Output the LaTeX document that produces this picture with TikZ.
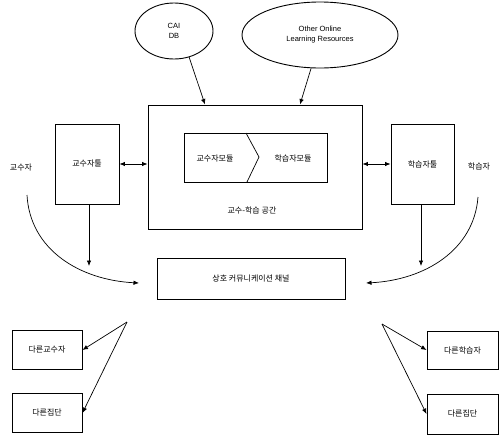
\documentclass[tikz,border=0pt]{standalone}
\usepackage{fontspec}
\setmainfont{Liberation Sans}
\newfontfamily\kr{Noto Sans CJK KR}
\usetikzlibrary{arrows.meta,shapes.geometric,calc}
\begin{document}
\begin{tikzpicture}[x=1pt,y=-1pt,
  box/.style={draw,line width=0.9pt,inner sep=0pt},
  lbl/.style={font=\kr\fontsize{8}{9}\selectfont,inner sep=1pt},
  ell/.style={draw,ellipse,line width=0.9pt,inner sep=0pt,align=center,font=\fontsize{7.5}{10}\selectfont},
  arr/.style={-{Latex[length=5.5pt,width=4.5pt]},line width=0.7pt},
  darr/.style={{Latex[length=5.5pt,width=4.5pt]}-{Latex[length=5.5pt,width=4.5pt]},line width=0.8pt}]
\useasboundingbox (0,0) rectangle (504,445);
% ellipses
\node[ell,minimum width=78pt,minimum height=56pt] (cai) at (174,31) {CAI\\DB};
\node[ell,minimum width=156pt,minimum height=66pt] (other) at (320,35) {Other Online\\Learning Resources};
% main box
\node[box,minimum width=214pt,minimum height=124pt] (main) at (255,167) {};
\node[lbl] (mainlbl) at (252,210) {교수-학습 공간};
% inner box with chevron
\node[box,minimum width=143pt,minimum height=49pt] (inner) at (255.5,157.5) {};
\coordinate (cvt) at (246,133);
\coordinate (cvm) at (259,157);
\coordinate (cvb) at (247,182);
\draw[line width=0.7pt] (cvt) -- (cvm) -- (cvb);
\node[lbl] (tmod) at (215,158) {교수자모듈};
\node[lbl] (smod) at (293,158) {학습자모듈};
% tools
\node[box,minimum width=64pt,minimum height=80pt] (ttool) at (87,164) {};
\node[lbl] (ttooltxt) at (ttool) {교수자툴};
\node[box,minimum width=63pt,minimum height=80pt] (stool) at (422.5,164) {};
\node[lbl] (stooltxt) at (stool) {학습자툴};
% actors
\node[lbl] (teacher) at (21,168) {교수자};
\node[lbl] (learner) at (479,166) {학습자};
\coordinate (tc) at (27,195);
\coordinate (lc) at (478,197);
% channel
\node[box,minimum width=188pt,minimum height=41pt] (chan) at (251,278.5) {};
\node[lbl] (chantxt) at (chan) {상호 커뮤니케이션 채널};
\coordinate (tdown) at (89,266);
\coordinate (sdown) at (421,266);
\coordinate (cl) at (139,283);
\coordinate (cr) at (366,283);
% bottom boxes
\node[box,minimum width=70pt,minimum height=39pt] (ot) at (47,350) {};
\node[lbl] (ottxt) at (ot) {다른교수자};
\node[box,minimum width=70pt,minimum height=39pt] (og1) at (47,413) {};
\node[lbl] (og1txt) at (og1) {다른집단};
\node[box,minimum width=71pt,minimum height=38pt] (os) at (462.5,350) {};
\node[lbl] (ostxt) at (os) {다른학습자};
\node[box,minimum width=71pt,minimum height=40pt] (og2) at (462.5,414) {};
\node[lbl] (og2txt) at (og2) {다른집단};
\coordinate (lap) at (127,322);
\coordinate (rap) at (382,324);
% connectors
\draw[arr] (cai.-60) -- (205,104.5);
\draw[arr] (other.-105) -- (300,104.5);
\draw[darr] (ttool.east) -- (main.west |- ttool.east);
\draw[darr] (main.east |- stool.west) -- (stool.west);
\draw[arr] (ttool.south -| tdown) -- (tdown);
\draw[arr] (stool.south -| sdown) -- (sdown);
\draw[arr] (tc) .. controls (30,250) and (80,280) .. (cl);
\draw[arr] (lc) .. controls (474,250) and (425,280) .. (cr);
\draw[arr] (lap) -- (ot.east);
\draw[arr] (lap) -- (og1.east);
\draw[arr] (rap) -- (os.west);
\draw[arr] (rap) -- (og2.west);
\end{tikzpicture}
\end{document}
